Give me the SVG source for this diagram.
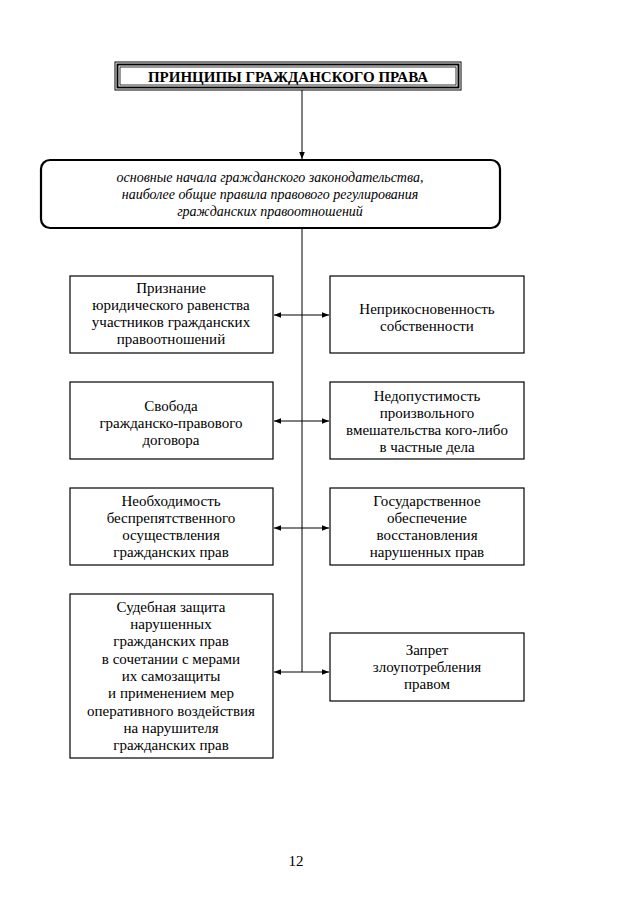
<svg xmlns="http://www.w3.org/2000/svg" width="638" height="903" viewBox="0 0 638 903">
<style>
text{font-family:"Liberation Serif","Times New Roman",serif;font-size:15px;fill:#000;text-anchor:middle}
.box{fill:#fff;stroke:#000;stroke-width:1.2}
.ln{stroke:#000;stroke-width:1;fill:none}
.it{font-style:italic;font-size:14px}
.b{font-weight:bold;font-size:15px}
</style>
<defs>
<marker id="ah" viewBox="0 0 10 10" refX="10" refY="5" markerWidth="7" markerHeight="7" orient="auto-start-reverse" markerUnits="userSpaceOnUse">
<path d="M0,1 L10,5 L0,9 z" fill="#000"/>
</marker>
</defs>
<rect width="638" height="903" fill="#fff"/>
<g id="connectors">
<line class="ln" x1="302" y1="90" x2="302" y2="159" marker-end="url(#ah)"/>
<line class="ln" x1="302" y1="228" x2="302" y2="672"/>
<line class="ln" x1="274" y1="315" x2="329" y2="315" marker-start="url(#ah)" marker-end="url(#ah)"/>
<line class="ln" x1="274" y1="421" x2="329" y2="421" marker-start="url(#ah)" marker-end="url(#ah)"/>
<line class="ln" x1="274" y1="528" x2="329" y2="528" marker-start="url(#ah)" marker-end="url(#ah)"/>
<line class="ln" x1="274" y1="672" x2="329" y2="672" marker-start="url(#ah)" marker-end="url(#ah)"/>
</g>
<g id="title">
<rect x="115" y="62" width="346" height="28" fill="#fff" stroke="#000" stroke-width="1"/>
<rect x="117.5" y="64.5" width="341" height="23" fill="none" stroke="#000" stroke-width="2"/>
<rect x="120" y="67" width="336" height="18" fill="none" stroke="#000" stroke-width="0.8"/>
<text class="b" x="288" y="81.5">ПРИНЦИПЫ ГРАЖДАНСКОГО ПРАВА</text>
</g>
<g id="basics">
<rect x="41" y="160" width="459" height="68" rx="9" fill="#fff" stroke="#000" stroke-width="2.2"/>
<text class="it" x="270" y="182">основные начала гражданского законодательства,</text>
<text class="it" x="270" y="199">наиболее общие правила правового регулирования</text>
<text class="it" x="270" y="216">гражданских правоотношений</text>
</g>
<g id="l1">
<rect class="box" x="70" y="276" width="203" height="77"/>
<text x="171" y="293">Признание</text>
<text x="171" y="310">юридического равенства</text>
<text x="171" y="327">участников гражданских</text>
<text x="171" y="344">правоотношений</text>
</g>
<g id="r1">
<rect class="box" x="330" y="276" width="194" height="77"/>
<text x="427" y="314">Неприкосновенность</text>
<text x="427" y="331">собственности</text>
</g>
<g id="l2">
<rect class="box" x="70" y="382" width="203" height="77"/>
<text x="171" y="411">Свобода</text>
<text x="171" y="428">гражданско-правового</text>
<text x="171" y="445">договора</text>
</g>
<g id="r2">
<rect class="box" x="330" y="382" width="194" height="77"/>
<text x="427" y="401">Недопустимость</text>
<text x="427" y="418">произвольного</text>
<text x="427" y="435">вмешательства кого-либо</text>
<text x="427" y="452">в частные дела</text>
</g>
<g id="l3">
<rect class="box" x="70" y="488" width="203" height="77"/>
<text x="171" y="506">Необходимость</text>
<text x="171" y="523">беспрепятственного</text>
<text x="171" y="540">осуществления</text>
<text x="171" y="557">гражданских прав</text>
</g>
<g id="r3">
<rect class="box" x="330" y="488" width="194" height="77"/>
<text x="427" y="506">Государственное</text>
<text x="427" y="523">обеспечение</text>
<text x="427" y="540">восстановления</text>
<text x="427" y="557">нарушенных прав</text>
</g>
<g id="l4">
<rect class="box" x="70" y="594" width="203" height="164"/>
<text x="171" y="612">Судебная защита</text>
<text x="171" y="629">нарушенных</text>
<text x="171" y="646">гражданских прав</text>
<text x="171" y="664">в сочетании с мерами</text>
<text x="171" y="681">их самозащиты</text>
<text x="171" y="698">и применением мер</text>
<text x="171" y="716">оперативного воздействия</text>
<text x="171" y="733">на нарушителя</text>
<text x="171" y="750">гражданских прав</text>
</g>
<g id="r4">
<rect class="box" x="330" y="633" width="194" height="68"/>
<text x="427" y="655">Запрет</text>
<text x="427" y="672">злоупотребления</text>
<text x="427" y="689">правом</text>
</g>
<text x="296" y="866">12</text>
</svg>
